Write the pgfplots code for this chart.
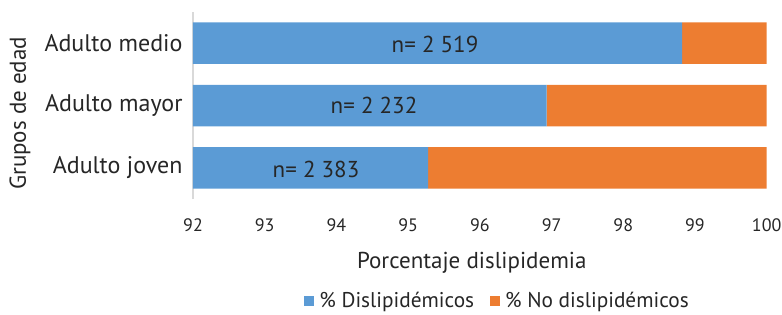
\documentclass[border=0pt]{standalone}
\usepackage{pgfplots}
\pgfplotsset{compat=1.18}
\usepackage{fontspec}
\setmainfont{PT Sans}
\definecolor{cblue}{HTML}{5B9BD5}
\definecolor{corange}{HTML}{ED7D31}
\definecolor{txt}{HTML}{262626}
\definecolor{axl}{HTML}{D9D9D9}
\begin{document}
\begin{tikzpicture}[x=1pt,y=1pt]
\useasboundingbox (0pt,0pt) rectangle (782pt,314pt);
\begin{axis}[
 at={(193pt,115pt)}, anchor=south west,
 scale only axis, width=573.7pt, height=187pt,
 xbar stacked, bar width=41.5pt,
 xmin=92, xmax=100, ymin=-0.5, ymax=2.5,
 ytick={0,1,2}, yticklabels={Adulto joven, Adulto mayor, Adulto medio},
 xtick={92,93,...,100},
 axis x line*=bottom, axis y line*=left,
 x axis line style={draw=none},
 y axis line style={draw=axl, line width=1.2pt, -},
 major tick length=0pt,
 tick label style={text=txt},
 yticklabel style={font=\fontsize{24}{28}\selectfont, xshift=-7pt},
 xticklabel style={font=\fontsize{18}{22}\selectfont, anchor=center, yshift=-26.5pt},
 /pgf/number format/assume math mode=true,
 xlabel={Porcentaje dislipidemia},
 xlabel style={at={(axis description cs:0.486,-0.34)}, anchor=center, font=\fontsize{23}{27}\selectfont, text=txt},
 ylabel={Grupos de edad},
 ylabel style={at={(axis description cs:-0.3016,0.458)}, anchor=center, font=\fontsize{23}{27}\selectfont, text=txt},
 legend style={at={(axis description cs:0.531,-0.543)}, anchor=center, draw=none, legend columns=2,
   font=\fontsize{21.3}{25}\selectfont, text=txt,
   /tikz/every odd column/.append style={column sep=3pt},
   /tikz/every even column/.append style={column sep=14pt}},
 legend image code/.code={\fill[#1] (0pt,-5pt) rectangle (10pt,5pt);},
]
\addplot[fill=cblue, draw=none] coordinates {(95.28,0) (96.93,1) (98.82,2)};
\addplot[fill=corange, draw=none] coordinates {(4.72,0) (3.07,1) (1.18,2)};
\legend{\% Dislipidémicos, \% No dislipidémicos}
\end{axis}
\node[font=\fontsize{23}{27}\selectfont, text=txt] at (316pt,144.5pt) {n= 2 383};
\node[font=\fontsize{23}{27}\selectfont, text=txt] at (374pt,208.5pt) {n= 2 232};
\node[font=\fontsize{23}{27}\selectfont, text=txt] at (435pt,270pt) {n= 2 519};
\end{tikzpicture}
\end{document}
